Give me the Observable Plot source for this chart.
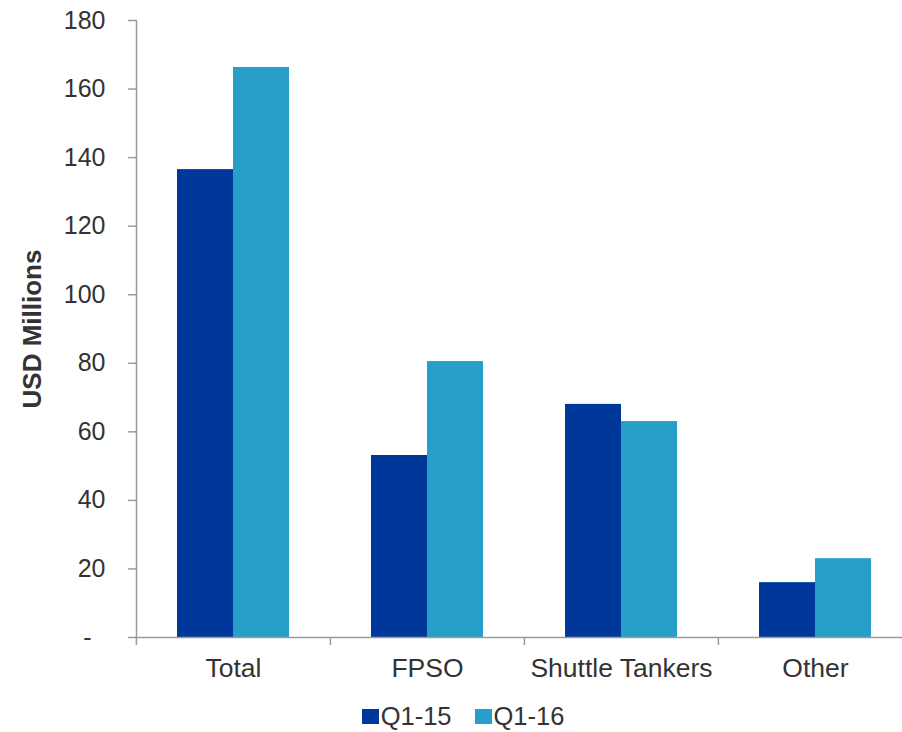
<!DOCTYPE html>
<html>
<head>
<meta charset="utf-8">
<script src="https://cdn.jsdelivr.net/npm/d3@7"></script>
<script src="https://cdn.jsdelivr.net/npm/@observablehq/plot@0.6"></script>
<style>
  body { margin: 0; background: #fff; font-family: "Liberation Sans", Arial, sans-serif; overflow: hidden; }
  #legend { display: flex; justify-content: center; align-items: center; gap: 23px; padding-left: 24px;
            font-size: 25.5px; line-height: 28px; color: #333; height: 28px; margin-top: 9px; }
  #legend .item { display: flex; align-items: center; gap: 2px; }
  #legend .sw { width: 17px; height: 15px; display: inline-block; }
</style>
</head>
<body>
<div id="chart"></div>
<div id="legend"></div>
<script>
const categories = ["Total", "FPSO", "Shuttle Tankers", "Other"];
const series = ["Q1-15", "Q1-16"];
const q1_15 = [136.5, 53.1, 68.0, 16.0];
const q1_16 = [166.3, 80.5, 63.0, 23.0];
const yTicks = [0, 20, 40, 60, 80, 100, 120, 140, 160, 180];
const colors = ["#00379A", "#289FC9"];

const rows = [];
categories.forEach((c, i) => {
  rows.push({category: c, series: series[0], value: q1_15[i]});
  rows.push({category: c, series: series[1], value: q1_16[i]});
});

const textColor = "#333";
const axisColor = "#9a9a9a";

const plot = Plot.plot({
  width: 902,
  height: 693,
  marginLeft: 135,
  marginRight: 0,
  marginTop: 20,
  marginBottom: 56,
  style: {fontFamily: "Liberation Sans, Arial, sans-serif", fontSize: "25px", color: textColor, background: "#fff"},
  fx: {domain: categories, range: [135, 912], padding: 0},
  x: {domain: series, paddingInner: 0, paddingOuter: 0.72, axis: null},
  y: {domain: [0, 180]},
  color: {domain: series, range: colors},
  marks: [
    Plot.barY(rows, {fx: "category", x: "series", y: "value", fill: "series"}),
    Plot.ruleY([0], {stroke: axisColor, strokeWidth: 1.5}),
    Plot.frame({anchor: "left", facetAnchor: "left", stroke: axisColor, strokeWidth: 1.5}),
    Plot.axisY({ticks: yTicks, tickSize: 8, tickPadding: 23, stroke: axisColor, strokeWidth: 1.5,
      fill: textColor, label: null,
      tickFormat: d => d === 0 ? "-\u00a0\u00a0" : String(d)}),
    Plot.axisFx({anchor: "bottom", tickSize: 0, tickPadding: 21, label: null, fill: textColor, fontSize: 26.5}),
    Plot.axisFx({anchor: "bottom", tickSize: 8, tickFormat: null, label: null, stroke: axisColor, strokeWidth: 1.5, dx: -97.1}),
    Plot.text(["USD Millions"], {frameAnchor: "left", textAnchor: "middle", rotate: -90, dx: -104, fontWeight: "bold", fontSize: 26, fill: textColor, facetAnchor: "left"})
  ]
});
document.getElementById("chart").appendChild(plot);

const legend = document.getElementById("legend");
series.forEach((s, i) => {
  const item = document.createElement("div");
  item.className = "item";
  const sw = document.createElement("span");
  sw.className = "sw";
  sw.style.background = colors[i];
  const t = document.createElement("span");
  t.textContent = s;
  item.appendChild(sw);
  item.appendChild(t);
  legend.appendChild(item);
});
</script>
</body>
</html>
